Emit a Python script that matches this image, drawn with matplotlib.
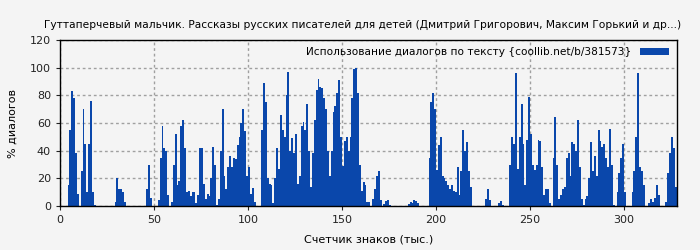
import matplotlib
matplotlib.use("Agg")
import matplotlib.pyplot as plt
import numpy as np

title = "Гуттаперчевый мальчик. Рассказы русских писателей для детей (Дмитрий Григорович, Максим Горький и др...)"
legend_label = "Использование диалогов по тексту {coollib.net/b/381573}"
xlabel = "Счетчик знаков (тыс.)"
ylabel = "% диалогов"

# % of dialogue per 1k chars
dialog = [
    0, 0, 0, 0, 15, 55, 83, 78, 38, 9,
    0, 25, 70, 45, 10, 45, 76, 10, 1, 0,
    0, 0, 0, 0, 0, 0, 0, 0, 0, 3,
    20, 12, 12, 10, 3, 0, 0, 0, 0, 0,
    0, 0, 0, 0, 0, 0, 12, 30, 6, 0,
    0, 0, 4, 35, 58, 42, 40, 8, 0, 3,
    30, 52, 15, 18, 58, 62, 42, 10, 11, 7,
    10, 10, 2, 8, 42, 42, 16, 5, 9, 7,
    20, 43, 30, 1, 5, 40, 70, 22, 12, 28,
    36, 28, 35, 34, 44, 50, 60, 70, 54, 22,
    28, 9, 13, 3, 0, 0, 0, 55, 89, 75,
    20, 16, 15, 2, 20, 42, 27, 66, 55, 50,
    80, 97, 40, 49, 38, 52, 16, 22, 58, 61,
    55, 74, 40, 14, 38, 62, 84, 92, 86, 85,
    78, 70, 40, 22, 40, 68, 72, 82, 91, 50,
    29, 47, 50, 40, 50, 78, 99, 100, 82, 30,
    11, 17, 15, 3, 3, 0, 5, 12, 22, 25,
    4, 0, 1.5, 3.5, 4, 1, 0, 0, 0, 0,
    0, 0, 0, 0, 0, 1.5, 3, 2, 4, 3.5,
    2, 0, 0, 0, 0, 0, 35, 75, 82, 70,
    26, 44, 50, 22, 20, 18, 15, 12, 15, 11,
    10, 28, 8, 25, 55, 40, 46, 25, 14, 0,
    0, 0, 0, 0, 0, 0, 5, 12, 4, 0,
    0, 0, 0, 2, 3.5, 1, 0, 0, 0, 30,
    50, 45, 96, 27, 50, 74, 45, 15, 48, 79,
    52, 30, 26, 30, 48, 47, 28, 8, 12, 12,
    2, 0, 35, 64, 30, 5, 8, 12, 14, 35,
    38, 22, 46, 45, 40, 62, 28, 5, 1, 5,
    7, 20, 46, 25, 36, 22, 55, 47, 43, 45,
    35, 28, 56, 30, 1, 0, 10, 24, 35, 45,
    10, 0, 0, 0, 10, 25, 50, 96, 28, 25,
    15, 0, 0, 2, 5, 3, 6, 15, 8, 0,
    0, 0, 3, 24, 38, 50, 42, 14,
]
chars = np.arange(len(dialog))

bg = "#f4f4f4"
fig = plt.figure(figsize=(7, 2.5), dpi=100, facecolor=bg)
ax = fig.add_axes([0.0857, 0.176, 0.881, 0.664], facecolor=bg)

ax.bar(chars, dialog, width=1.0, align="edge", color="#0a47ab", linewidth=0, label=legend_label)

ax.set_xlim(0, 328)
ax.set_ylim(0, 120)
ax.set_xticks([0, 50, 100, 150, 200, 250, 300])
ax.set_yticks([0, 20, 40, 60, 80, 100, 120])
ax.tick_params(labelsize=8, length=3, colors="#222222")
ax.set_axisbelow(True)
ax.grid(True, color="#a0a0a0", linestyle=(0, (2, 2)), linewidth=1)
for s in ax.spines.values():
    s.set_color("black")
    s.set_linewidth(1)

ax.set_title(title, fontsize=7.7, pad=9, x=0.49)
ax.set_xlabel(xlabel, fontsize=8, labelpad=7)
ax.set_ylabel(ylabel, fontsize=8, labelpad=9)
ax.legend(loc="upper right", frameon=False, markerfirst=False, fontsize=7.6,
          handlelength=2.8, borderaxespad=0.3)

fig.savefig("out.png", dpi=100, facecolor=bg)
